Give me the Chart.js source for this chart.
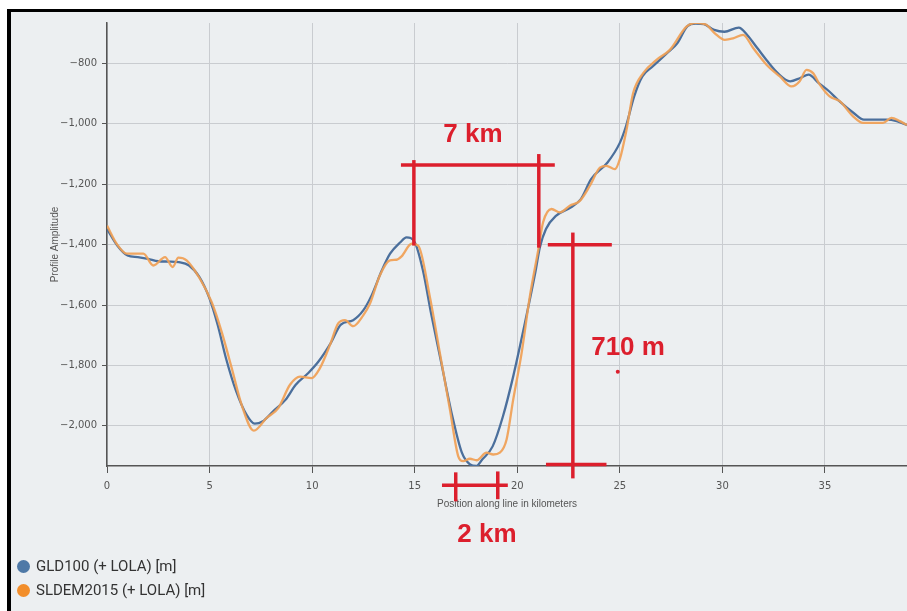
<!DOCTYPE html>
<html>
<head>
<meta charset="utf-8">
<script src="https://cdn.jsdelivr.net/npm/chart.js@4.4.1/dist/chart.umd.min.js"></script>
<style>
body { margin: 0; background: #fff; width: 907px; height: 611px; overflow: hidden; font-family: Roboto, sans-serif; }
#frame { position: absolute; left: 7px; top: 9px; width: 900px; height: 602px; background: #000; }
#panel { position: absolute; left: 11px; top: 12px; width: 896px; height: 599px; background: #eceff1; }
#wrap { position: absolute; left: 0; top: 0; width: 896px; height: 545px; }
#legend { position: absolute; left: 6px; top: 542px; font-size: 15px; color: #333; }
.item { display: flex; align-items: center; height: 24px; }
.dot { width: 13px; height: 13px; border-radius: 50%; margin-right: 6px; }
</style>
</head>
<body>
<div id="frame"></div>
<div id="panel">
  <div id="wrap"><canvas id="profileChart"></canvas></div>
  <div id="legend">
    <div class="item"><span class="dot" style="background:#4e79a7"></span>GLD100 (+ LOLA) [m]</div>
    <div class="item"><span class="dot" style="background:#f28e2b"></span>SLDEM2015 (+ LOLA) [m]</div>
  </div>
</div>
<script>
// GLD100 profile (km along line, elevation m)
const gldKm = [0, 0.5, 1.0, 1.5, 2.0, 2.5, 3.0, 3.5, 4.0, 4.5, 5.0, 5.4, 5.8, 6.3, 6.8, 7.2, 7.6, 8.1, 8.7, 9.2,
  9.8, 10.3, 10.9, 11.4, 12.0, 12.5, 12.9, 13.4, 13.8, 14.3, 14.6, 15.0, 15.4, 15.8, 16.3, 16.8, 17.3, 17.7, 18.0, 18.3,
  18.8, 19.3, 19.8, 20.3, 20.9, 21.1, 21.4, 21.9, 22.6, 23.1, 23.6, 24.4, 25.0, 25.3, 25.7, 26.1, 26.6, 27.3, 27.8, 28.3,
  28.7, 29.1, 29.6, 30.1, 30.8, 31.2, 31.7, 32.2, 32.7, 33.3, 33.8, 34.2, 34.7, 35.2, 35.7, 36.4, 36.9, 37.5, 38.0, 38.5, 39.0];
const gldVal = [-1348, -1403, -1436, -1441, -1447, -1455, -1456, -1458, -1469, -1507, -1579, -1667, -1776, -1886, -1963, -1993, -1985, -1952, -1914, -1864,
  -1826, -1788, -1727, -1665, -1650, -1617, -1568, -1485, -1430, -1392, -1376, -1392, -1485, -1628, -1793, -1958, -2089, -2128, -2133, -2111,
  -2068, -1969, -1837, -1683, -1485, -1409, -1348, -1304, -1277, -1249, -1183, -1128, -1063, -1008, -909, -843, -810, -766, -733, -676,
  -668, -670, -689, -695, -681, -705, -749, -793, -832, -859, -848, -837, -865, -892, -925, -964, -986, -986, -986, -991, -1004];

// SLDEM2015 profile
const sldKm = [0, 0.47, 0.96, 1.77, 2.26, 2.83, 3.2, 3.48, 3.88, 4.53, 5.1, 5.59, 6.08, 6.56, 7.16, 7.78, 8.35, 8.92, 9.41, 9.97,
  10.38, 10.87, 11.27, 11.6, 12.0, 12.49, 12.82, 13.3, 13.79, 14.12, 14.36, 14.85, 15.17, 15.74, 16.23, 16.72, 17.12, 17.36, 17.69, 18.02,
  18.5, 18.83, 19.15, 19.48, 19.8, 20.21, 20.61, 21.02, 21.26, 21.67, 22.08, 22.56, 23.05, 23.54, 24.03, 24.35, 24.76, 25.0, 25.33, 25.65,
  26.14, 26.79, 27.44, 28.25, 28.74, 29.22, 29.63, 30.12, 30.52, 31.01, 31.5, 32.15, 32.8, 33.37, 33.77, 34.1, 34.42, 34.75, 35.23, 35.72,
  36.37, 36.86, 37.34, 37.83, 38.24, 38.65, 39.0];
const sldVal = [-1337, -1397, -1430, -1430, -1469, -1441, -1474, -1443, -1452, -1513, -1590, -1689, -1809, -1930, -2016, -1974, -1941, -1864, -1837, -1842,
  -1809, -1732, -1661, -1650, -1670, -1634, -1595, -1502, -1452, -1450, -1439, -1397, -1403, -1573, -1760, -1947, -2100, -2117, -2109, -2114,
  -2089, -2095, -2089, -2045, -1914, -1760, -1573, -1419, -1326, -1282, -1293, -1271, -1255, -1205, -1145, -1139, -1150, -1117, -1018, -898,
  -832, -788, -755, -678, -665, -672, -700, -722, -717, -705, -749, -804, -843, -876, -859, -821, -832, -870, -909, -925,
  -975, -997, -997, -997, -980, -991, -1004];

const xTicks = [0, 5, 10, 15, 20, 25, 30, 35];
const yTicks = [-800, -1000, -1200, -1400, -1600, -1800, -2000];

// red hand-drawn markings, in data units: [km1, m1, km2, m2]
const red = '#dc1f2d';
const redLines = [
  [14.33, -1136, 21.83, -1136], [14.96, -1120, 14.96, -1403], [21.05, -1100, 21.05, -1410],
  [22.71, -1360, 22.71, -2174], [21.49, -1400, 24.61, -1400], [21.4, -2128, 24.35, -2128],
  [16.33, -2197, 19.54, -2197], [17.0, -2154, 17.0, -2250], [19.05, -2151, 19.05, -2243]
];
const redLabels = [['7 km', 17.84, -1037], ['710 m', 25.4, -1742], ['2 km', 18.52, -2362]];
const redDot = [24.9, -1821];

const toPoints = (xs, ys) => xs.map((v, i) => ({ x: v, y: ys[i] }));

const redMarks = {
    id: 'redMarks',
    afterDraw(chart) {
        const { ctx, scales: { x, y } } = chart;
        ctx.save();
        ctx.strokeStyle = red;
        ctx.fillStyle = red;
        ctx.lineWidth = 3.5;
        redLines.forEach(l => {
            ctx.beginPath();
            ctx.moveTo(x.getPixelForValue(l[0]), y.getPixelForValue(l[1]));
            ctx.lineTo(x.getPixelForValue(l[2]), y.getPixelForValue(l[3]));
            ctx.stroke();
        });
        ctx.font = 'bold 26px "Liberation Sans", Arial, sans-serif';
        ctx.textAlign = 'center';
        ctx.textBaseline = 'middle';
        redLabels.forEach(t => ctx.fillText(t[0], x.getPixelForValue(t[1]), y.getPixelForValue(t[2])));
        ctx.beginPath();
        ctx.arc(x.getPixelForValue(redDot[0]), y.getPixelForValue(redDot[1]), 2, 0, Math.PI * 2);
        ctx.fill();
        ctx.restore();
    }
};

const tickFont = { family: '"DejaVu Sans", sans-serif', size: 10 };
const titleFont = { family: '"Liberation Sans", Arial, sans-serif', size: 10 };

new Chart(document.getElementById('profileChart'), {
    type: 'line',
    data: {
        datasets: [
            {
                label: 'GLD100 (+ LOLA) [m]',
                data: toPoints(gldKm, gldVal),
                borderColor: '#4b6f9c',
                borderWidth: 2.3,
                order: 1
            },
            {
                label: 'SLDEM2015 (+ LOLA) [m]',
                data: toPoints(sldKm, sldVal),
                borderColor: 'rgba(240,160,85,0.92)',
                borderWidth: 2.3,
                order: 0
            }
        ]
    },
    options: {
        responsive: true,
        maintainAspectRatio: false,
        animation: false,
        layout: { padding: { left: 38, top: 10, right: 0, bottom: 43 } },
        elements: {
            point: { radius: 0 },
            line: { cubicInterpolationMode: 'monotone', fill: false }
        },
        plugins: { legend: { display: false }, tooltip: { enabled: false } },
        scales: {
            x: {
                type: 'linear',
                min: 0,
                max: 39,
                afterBuildTicks: s => { s.ticks = xTicks.map(v => ({ value: v })); },
                ticks: { font: tickFont, color: '#555', padding: 7, maxRotation: 0 },
                grid: { color: '#c9ccd0', tickLength: 7, tickColor: '#555' },
                border: { color: '#555', width: 1.5 },
                title: { display: true, text: 'Position along line in kilometers', font: titleFont, color: '#555', padding: { top: -1, bottom: 4 } }
            },
            y: {
                min: -2133,
                max: -666,
                afterBuildTicks: s => { s.ticks = yTicks.map(v => ({ value: v })); },
                ticks: {
                    font: tickFont, color: '#555', padding: 5,
                    callback: v => (v < 0 ? '\u2212' : '') + Math.abs(v).toLocaleString('en-US')
                },
                grid: { color: '#c9ccd0', tickLength: 5, tickColor: '#555' },
                border: { color: '#555', width: 1.5 },
                title: { display: true, text: 'Profile Amplitude', font: titleFont, color: '#555', padding: { top: 0, bottom: -6 } }
            }
        }
    },
    plugins: [redMarks]
});
</script>
</body>
</html>
